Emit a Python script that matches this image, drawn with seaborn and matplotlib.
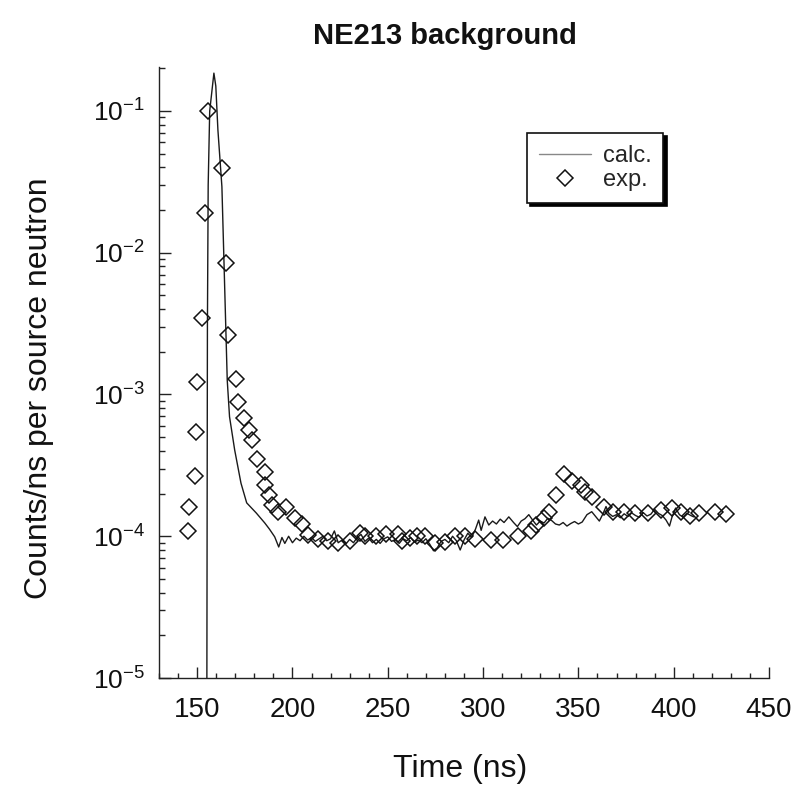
import numpy as np
import pandas as pd
import matplotlib
matplotlib.use("Agg")
import matplotlib.pyplot as plt
from matplotlib.ticker import MultipleLocator, LogLocator, LogFormatterSciNotation, NullFormatter
import seaborn as sns

# ---------------- data ----------------
calc_time = [155.0, 155.4, 155.8, 156.6, 158.8, 159.8, 160.9, 163.0, 165.5, 165.8,
             167.0, 169.7, 173.0, 176.0, 181.0, 185.5, 188.0, 190.7, 192.8, 194.5,
             196, 198, 200, 202, 204, 206, 208, 210, 212, 214, 216, 218, 220, 222,
             224, 226, 228, 230, 232, 234, 236, 238, 240, 242, 244, 246, 248, 250,
             252, 254, 256, 258, 260, 262, 264, 266, 268, 270, 272, 274, 276, 278,
             280, 282, 284, 286, 288, 290, 292, 294, 296, 297.7, 299, 301, 303, 305,
             307, 309, 311, 313.5, 316, 318, 320, 322, 324, 326, 328, 330, 332, 334,
             336, 338, 340, 342, 344, 346, 348, 350, 352, 354.5, 357, 359, 361, 363,
             364.5, 366, 368, 370, 372, 374, 376, 378, 380, 382, 384, 386, 388, 390,
             392, 394, 396, 397.8, 399, 401, 403, 405, 407, 409, 410.5]
calc_counts = [1e-6, 3e-3, 3e-2, 1.0e-1, 0.185, 0.15, 0.0735, 0.0292, 0.00175, 0.00126,
               6.97e-4, 4.06e-4, 2.37e-4, 1.72e-4, 1.46e-4, 1.24e-4, 1.12e-4, 9.9e-5, 8.4e-5, 9.8e-5,
               8.9e-5, 1.0e-4, 9.0e-5, 9.7e-5, 9.3e-5, 1.0e-4, 9.4e-5, 9.8e-5, 9.2e-5, 9.6e-5,
               1.0e-4, 9.3e-5, 9.6e-5, 1.09e-4, 9.0e-5, 9.4e-5, 8.8e-5, 9.5e-5, 9.0e-5, 9.8e-5,
               1.03e-4, 9.2e-5, 9.7e-5, 9.0e-5, 9.5e-5, 8.9e-5, 9.6e-5, 9.9e-5, 9.2e-5, 9.5e-5,
               8.9e-5, 9.6e-5, 9.3e-5, 9.8e-5, 9.1e-5, 9.4e-5, 9.0e-5, 9.6e-5, 8.8e-5, 7.9e-5,
               8.3e-5, 9.2e-5, 9.5e-5, 9.0e-5, 1.0e-4, 9.3e-5, 8.0e-5, 9.4e-5, 1.05e-4, 9.8e-5,
               1.12e-4, 1.3e-4, 1.1e-4, 1.37e-4, 1.2e-4, 1.28e-4, 1.22e-4, 1.32e-4, 1.25e-4, 1.37e-4,
               1.25e-4, 1.17e-4, 1.28e-4, 1.33e-4, 1.42e-4, 1.3e-4, 1.2e-4, 1.28e-4, 1.24e-4, 1.34e-4,
               1.29e-4, 1.22e-4, 1.2e-4, 1.25e-4, 1.18e-4, 1.23e-4, 1.27e-4, 1.22e-4, 1.26e-4, 1.42e-4,
               1.49e-4, 1.38e-4, 1.28e-4, 1.45e-4, 1.62e-4, 1.45e-4, 1.38e-4, 1.42e-4, 1.35e-4, 1.44e-4,
               1.38e-4, 1.46e-4, 1.4e-4, 1.36e-4, 1.47e-4, 1.39e-4, 1.43e-4, 1.55e-4, 1.45e-4, 1.4e-4,
               1.3e-4, 1.18e-4, 1.35e-4, 1.58e-4, 1.42e-4, 1.36e-4, 1.45e-4, 1.4e-4, 1.37e-4]

exp_time = [145.3, 145.6, 148.8, 149.5, 149.8, 152.5, 154.3, 155.7, 163.2, 165.3,
            166.2, 170.3, 171.4, 174.6, 177.4, 178.9, 181.3, 185.6, 185.4, 187.5,
            189.2, 192.4, 196.7, 201.2, 204.8, 208.3, 213.2, 218.5, 224.0, 230.2,
            235.5, 238.0, 243.6, 248.9, 255.2, 257.4, 261.8, 265.3, 269.3, 275.0,
            280.2, 285.5, 290.7, 296.0, 304.0, 310.4, 318.5, 325.0, 328.0, 332.0,
            334.6, 338.5, 342.5, 346.5, 351.3, 353.6, 357.0, 363.5, 368.0, 374.0,
            379.9, 386.4, 393.4, 399.2, 404.0, 408.7, 413.3, 421.5, 427.3]
exp_counts = [1.09e-4, 1.62e-4, 2.66e-4, 5.47e-4, 1.22e-3, 3.45e-3, 1.9e-2, 1.0e-1, 3.94e-2, 8.4e-3,
              2.63e-3, 1.28e-3, 8.8e-4, 6.8e-4, 5.6e-4, 4.75e-4, 3.5e-4, 2.85e-4, 2.3e-4, 1.95e-4,
              1.66e-4, 1.49e-4, 1.62e-4, 1.35e-4, 1.23e-4, 1.02e-4, 9.6e-5, 9.3e-5, 8.9e-5, 9.3e-5,
              1.05e-4, 1.0e-4, 1.0e-4, 1.04e-4, 1.04e-4, 9.3e-5, 9.7e-5, 1.0e-4, 1.0e-4, 9.0e-5,
              9.1e-5, 1.0e-4, 1.0e-4, 9.5e-5, 9.4e-5, 9.4e-5, 1.0e-4, 1.09e-4, 1.2e-4, 1.34e-4,
              1.49e-4, 1.95e-4, 2.75e-4, 2.45e-4, 2.3e-4, 2.05e-4, 1.9e-4, 1.6e-4, 1.49e-4, 1.49e-4,
              1.45e-4, 1.45e-4, 1.53e-4, 1.58e-4, 1.49e-4, 1.39e-4, 1.46e-4, 1.49e-4, 1.43e-4]

x_ticks = [150, 200, 250, 300, 350, 400, 450]

title = "NE213 background"
xlabel = "Time (ns)"
ylabel = "Counts/ns per source neutron"

# ---------------- plot ----------------
sns.set_style("ticks")
regular = ["Liberation Sans", "DejaVu Sans"]
plt.rcParams["font.family"] = regular
plt.rcParams["axes.unicode_minus"] = False

calc_df = pd.DataFrame({"time": calc_time, "counts": calc_counts})
exp_df = pd.DataFrame({"time": exp_time, "counts": exp_counts})

L, R, B, T = 159, 769, 678, 66.7
fig = plt.figure(figsize=(7.91, 7.85), dpi=100)
ax = fig.add_axes([L / 791, 1 - B / 785, (R - L) / 791, (B - T) / 785])

sns.lineplot(data=calc_df, x="time", y="counts", ax=ax, estimator=None, sort=False,
             color="#1a1a1a", linewidth=1.0, label="calc.")
sns.lineplot(data=exp_df, x="time", y="counts", ax=ax, estimator=None, sort=False,
             linestyle="", marker="D", markersize=7.8, markerfacecolor="none",
             markeredgecolor="#111111", markeredgewidth=1.1, color="#111111", label="exp.")

ax.set_yscale("log")
ax.set_xlim(130, 450)
ax.set_ylim(1e-5, 10 ** -0.6875)

ax.set_xticks(x_ticks)
ax.xaxis.set_minor_locator(MultipleLocator(10))
ax.yaxis.set_major_locator(LogLocator(base=10, numticks=10))
ax.yaxis.set_minor_locator(LogLocator(base=10, subs=np.arange(2, 10), numticks=20))
ax.yaxis.set_major_formatter(LogFormatterSciNotation())
ax.yaxis.set_minor_formatter(NullFormatter())

sns.despine(ax=ax)
for s in ("left", "bottom"):
    ax.spines[s].set_color("#222222")
    ax.spines[s].set_linewidth(1.0)

ax.tick_params(axis="both", which="both", direction="in", colors="#222222", width=1.0)
ax.tick_params(axis="x", which="major", length=8, pad=14, labelsize=20)
ax.tick_params(axis="x", which="minor", length=3.6)
ax.tick_params(axis="y", which="major", length=8.5, pad=10, labelsize=19)
ax.tick_params(axis="y", which="minor", length=4.5)
for lab in ax.get_xticklabels() + ax.get_yticklabels():
    lab.set_color("#111111")

ax.set_xlabel(xlabel, fontsize=23, color="#111111")
ax.xaxis.set_label_coords((460 - L) / (R - L), (B - 754) / (B - T))
ax.set_ylabel(ylabel, fontsize=23, color="#111111")
ax.yaxis.set_label_coords((54 - L) / (R - L), (B - 388) / (B - T))
fig.text(445 / 791, 1 - 36 / 785, title, fontsize=21, fontweight="bold",
         ha="center", va="center", color="#111111")

leg = ax.legend(loc="upper left", bbox_to_anchor=((527 - L) / (R - L), (B - 133) / (B - T)),
                borderaxespad=0, frameon=True, fancybox=False,
                shadow={"color": "black", "alpha": 1.0, "ox": 2.5, "oy": -2.5},
                prop={"size": 17},
                handlelength=2.2, handletextpad=0.5, borderpad=0.5, labelspacing=0.1)
leg.get_frame().set_edgecolor("#111111")
leg.get_frame().set_linewidth(1.2)
leg.get_frame().set_facecolor("white")
leg.get_lines()[0].set_color("#888888")

fig.savefig("out.png", dpi=100, facecolor="white")
